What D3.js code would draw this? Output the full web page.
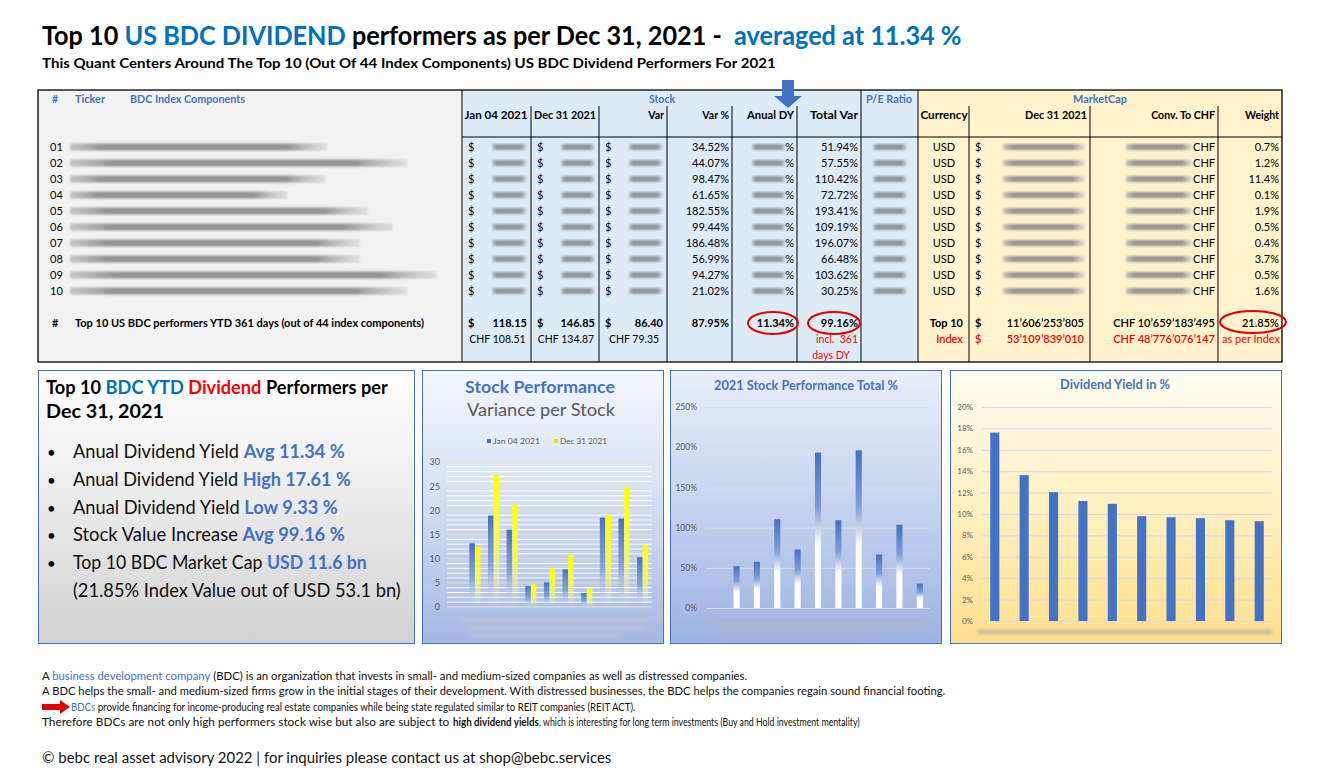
<!DOCTYPE html>
<html><head><meta charset="utf-8">
<script src="https://cdn.jsdelivr.net/npm/d3@7/dist/d3.min.js"></script>
<style>body{margin:0;background:#fff}svg{display:block}text{white-space:pre}</style>
</head><body>
<script>
// ---------------- DATA ----------------
const rowIds = ['01','02','03','04','05','06','07','08','09','10'];
const varPct = [34.52,44.07,98.47,61.65,182.55,99.44,186.48,56.99,94.27,21.02];
const totalVar = [51.94,57.55,110.42,72.72,193.41,109.19,196.07,66.48,103.62,30.25];
const weightPct = [0.7,1.2,11.4,0.1,1.9,0.5,0.4,3.7,0.5,1.6];
const currency = ['USD','USD','USD','USD','USD','USD','USD','USD','USD','USD'];
const priceJan = [13.2,18.9,16.0,4.3,5.1,7.8,2.9,18.5,18.3,10.3];
const priceDec = [12.5,27.3,21.2,4.7,8.0,10.8,3.9,19.0,24.8,12.8];
const divYield = [17.61,13.63,12.04,11.22,10.95,9.80,9.70,9.61,9.42,9.33];
const stockTicks = [0,5,10,15,20,25,30];
const totalTicks = [0,0.5,1,1.5,2,2.5];
const yieldTicks = [0,0.02,0.04,0.06,0.08,0.10,0.12,0.14,0.16,0.18,0.20];
const sumUSD = ['118.15','146.85','86.40'];
const sumCHF = ['CHF 108.51','CHF 134.87','CHF 79.35'];
const sumVarPct = '87.95%', sumDY = '11.34%', sumTotal = '99.16%';
const mcapTop10 = "11’606’253’805", chfTop10 = "CHF 10’659’183’495", weightTop10 = '21.85%';
const mcapIndex = "53’109’839’010", chfIndex = "CHF 48’776’076’147";
const legendNames = ['Jan 04 2021','Dec 31 2021'];
// hidden (blurred) name lengths, decorative
const nameMaskLen = [257,337,255,217,298,323,290,290,367,337];

// ---------------- SETUP ----------------
const W=1332,H=784;
const FONT='Lato, "Open Sans", sans-serif';
const BLUE='#4472C4', TBLUE='#0070C0', RED='#FF0000';
const svg=d3.select('body').append('svg').attr('width',W).attr('height',H).style('font-family',FONT);
svg.append('rect').attr('width',W).attr('height',H).attr('fill','#fff');
const defs=svg.append('defs');
defs.append('filter').attr('id','blur').attr('x','-20%').attr('y','-100%').attr('width','140%').attr('height','300%')
  .append('feGaussianBlur').attr('stdDeviation','1.3 0.9');
defs.append('filter').attr('id','blur2').attr('x','-20%').attr('y','-200%').attr('width','140%').attr('height','500%')
  .append('feGaussianBlur').attr('stdDeviation',2.2);
function lg(id,stops,horiz){
  const g=defs.append('linearGradient').attr('id',id).attr('x1',0).attr('y1',0).attr('x2',horiz?1:0).attr('y2',horiz?0:1);
  stops.forEach(s=>g.append('stop').attr('offset',s[0]).attr('stop-color',s[1]).attr('stop-opacity',s[2]==null?1:s[2]));
}
lg('gLeft',[[0,'#ffffff'],[0.35,'#f1f1f1'],[1,'#d2d2d2']]);
lg('gStock',[[0,'#f3f6fc'],[0.4,'#dbe4f5'],[1,'#a4b9e3']]);
lg('gTotal',[[0,'#e9eef9'],[0.45,'#c9d6f0'],[1,'#9cb3e1']]);
lg('gYield',[[0,'#fffdf3'],[0.5,'#fff0c0'],[1,'#ffe08c']]);
lg('gBarBlue',[[0,BLUE,1],[0.55,'#6f92d2',0.75],[1,'#dfe7f6',0]]);
lg('gBarYel',[[0,'#FFFF00',1],[0.55,'#ffff40',0.8],[1,'#ffffc0',0]]);
lg('gBarTot',[[0,BLUE,1],[0.35,'#7f9dd6',1],[0.6,'#ffffff',1],[1,'#ffffff',1]]);
lg('gMask',[[0,'#a8a8a8',0.6],[0.12,'#8c8c8c',0.9],[0.85,'#8c8c8c',0.9],[1,'#b0b0b0',0.3]],true);

function rich(x,y,parts,o){
  const g=svg.append('g');
  const t=g.append('text').attr('font-size',o.size).attr('font-weight',o.weight||400)
    .attr('fill',o.fill||'#000').attr('text-anchor',o.anchor||'start');
  if(o.dy) t.attr('dy',o.dy);
  (Array.isArray(parts)?parts:[parts]).forEach(p=>{
    if(typeof p==='string') t.append('tspan').text(p);
    else{const s=t.append('tspan').text(p[0]); if(p[1].fill)s.attr('fill',p[1].fill); if(p[1].weight)s.attr('font-weight',p[1].weight);}
  });
  let sx=1;
  if(o.width){const w=t.node().getComputedTextLength(); if(w>0) sx=o.width/w;}
  g.attr('transform',`translate(${x},${y}) scale(${sx},1)`);
  return t;
}
function mask(x,y,w,h){
  svg.append('rect').attr('x',x).attr('y',y-h/2).attr('width',w).attr('height',h)
    .attr('fill','url(#gMask)').attr('filter','url(#blur)');
}

// ---------------- TITLES ----------------
rich(42,45,['Top 10 ',['US BDC DIVIDEND',{fill:TBLUE}],' performers as per Dec 31, 2021 -  ',['averaged at 11.34 %',{fill:TBLUE}]],{size:26,weight:700,width:920});
rich(42,68,'This Quant Centers Around The Top 10 (Out Of 44 Index Components) US BDC Dividend Performers For 2021',{size:12.5,weight:700,width:734});

// ---------------- TABLE ----------------
const T={x0:38,x1:1282,y0:90,y1:362,hy:106,hb:137};
const col={jan:[462,531],dec:[531,599],vr:[599,667],vp:[667,732],dy:[732,797],tot:[797,861],pe:[861,918],cur:[918,969],mc:[969,1090],chf:[1090,1218],w:[1218,1282]};
svg.append('rect').attr('x',T.x0).attr('y',T.y0).attr('width',462-T.x0).attr('height',T.y1-T.y0).attr('fill','#f2f2f2');
svg.append('rect').attr('x',462).attr('y',T.y0).attr('width',918-462).attr('height',T.y1-T.y0).attr('fill','#ddebf7');
svg.append('rect').attr('x',918).attr('y',T.y0).attr('width',T.x1-918).attr('height',T.y1-T.y0).attr('fill','#fff2cc');
const lines=svg.append('g').attr('stroke','#000').attr('stroke-width',1);
[462,861,918].forEach(x=>lines.append('line').attr('x1',x).attr('x2',x).attr('y1',T.y0).attr('y2',T.y1));
[531,599,667,732,797,969,1090,1218].forEach(x=>lines.append('line').attr('x1',x).attr('x2',x).attr('y1',T.hy).attr('y2',T.y1));
lines.append('line').attr('x1',462).attr('x2',T.x1).attr('y1',T.hb).attr('y2',T.hb);
svg.append('rect').attr('x',T.x0).attr('y',T.y0).attr('width',T.x1-T.x0).attr('height',T.y1-T.y0)
  .attr('fill','none').attr('stroke','#000').attr('stroke-width',1.3);

// headers
const hs={size:10.5,weight:700,fill:BLUE,dy:'0.35em'};
rich(52,99,'#',hs); rich(75,99,'Ticker',Object.assign({},hs,{width:30})); rich(130,99,'BDC Index Components',Object.assign({},hs,{width:115}));
rich(662,99,'Stock',Object.assign({},hs,{anchor:'middle'}));
rich(889,99,'P/E Ratio',Object.assign({},hs,{anchor:'middle',width:46}));
rich(1100,99,'MarketCap',Object.assign({},hs,{anchor:'middle',width:54}));
const ch={size:10.5,weight:700,fill:'#000',dy:'0.35em'};
rich(496,115,'Jan 04 2021',Object.assign({},ch,{anchor:'middle',width:63}));
rich(565,115,'Dec 31 2021',Object.assign({},ch,{anchor:'middle',width:62}));
rich(664,115,'Var',Object.assign({},ch,{anchor:'end'}));
rich(729,115,'Var %',Object.assign({},ch,{anchor:'end'}));
rich(794,115,'Anual DY',Object.assign({},ch,{anchor:'end',width:47}));
rich(858,115,'Total Var',Object.assign({},ch,{anchor:'end',width:48}));
rich(944,115,'Currency',Object.assign({},ch,{anchor:'middle',width:47}));
rich(1087,115,'Dec 31 2021',Object.assign({},ch,{anchor:'end',width:62}));
rich(1215,115,'Conv. To CHF',Object.assign({},ch,{anchor:'end',width:64}));
rich(1279,115,'Weight',Object.assign({},ch,{anchor:'end'}));

// arrow above Anual DY
svg.append('path').attr('d','M782,80 L794,80 L794,96 L802,96 L788,108 L774,96 L782,96 Z').attr('fill',BLUE);

// rows
const rowY=i=>147+i*16;
const rs={size:11,fill:'#000',dy:'0.35em'};
rowIds.forEach((id,i)=>{
  const y=rowY(i);
  rich(50,y,id,rs);
  mask(70,y,nameMaskLen[i],7);
  ['jan','dec','vr'].forEach(k=>{
    rich(col[k][0]+6,y,'$',rs);
    mask(col[k][0]+30,y,col[k][1]-col[k][0]-34,6);
  });
  rich(729,y,varPct[i].toFixed(2)+'%',Object.assign({},rs,{anchor:'end'}));
  mask(752,y,34,6);
  rich(794,y,'%',Object.assign({},rs,{anchor:'end'}));
  rich(858,y,totalVar[i].toFixed(2)+'%',Object.assign({},rs,{anchor:'end'}));
  mask(873,y,34,6);
  rich(944,y,currency[i],Object.assign({},rs,{anchor:'middle'}));
  rich(975,y,'$',rs);
  mask(1003,y,82,6);
  mask(1126,y,66,6);
  rich(1215,y,'CHF',Object.assign({},rs,{anchor:'end'}));
  rich(1279,y,weightPct[i].toFixed(1)+'%',Object.assign({},rs,{anchor:'end'}));
});

// summary rows
const sb={size:11,weight:700,fill:'#000',dy:'0.35em'};
rich(52,323,'#',sb);
rich(75,323,'Top 10 US BDC performers YTD 361 days (out of 44 index components)',Object.assign({},sb,{size:10.5,width:349}));
['jan','dec','vr'].forEach((k,j)=>{
  rich(col[k][0]+6,323,'$',sb);
  rich(col[k][1]-4,323,sumUSD[j],Object.assign({},sb,{anchor:'end'}));
  rich((col[k][0]+col[k][1])/2+1,339,sumCHF[j],Object.assign({},rs,{anchor:'middle',size:10.5}));
});
rich(729,323,sumVarPct,Object.assign({},sb,{anchor:'end'}));
rich(794,323,sumDY,Object.assign({},sb,{anchor:'end'}));
rich(858,323,sumTotal,Object.assign({},sb,{anchor:'end'}));
rich(858,339,'incl.  361',Object.assign({},rs,{anchor:'end',fill:RED,size:10.5}));
rich(831,355,'days DY',Object.assign({},rs,{anchor:'middle',fill:RED,size:10.5}));
rich(963,323,'Top 10',Object.assign({},sb,{anchor:'end'}));
rich(975,323,'$',sb);
rich(1084,323,mcapTop10,Object.assign({},sb,{anchor:'end',weight:600}));
rich(1215,323,chfTop10,Object.assign({},sb,{anchor:'end',weight:600}));
rich(1279,323,weightTop10,Object.assign({},sb,{anchor:'end',weight:600}));
const sr=Object.assign({},sb,{fill:RED,weight:600});
rich(963,339,'Index',Object.assign({},sr,{anchor:'end'}));
rich(975,339,'$',sr);
rich(1084,339,mcapIndex,Object.assign({},sr,{anchor:'end'}));
rich(1215,339,chfIndex,Object.assign({},sr,{anchor:'end'}));
rich(1280,339,'as per Index',Object.assign({},rs,{anchor:'end',fill:RED,size:10.5,width:58}));
[[773,323,25,11],[834,323,26,11],[1253,322,33,11]].forEach(e=>
  svg.append('ellipse').attr('cx',e[0]).attr('cy',e[1]).attr('rx',e[2]).attr('ry',e[3])
    .attr('fill','none').attr('stroke','#e00000').attr('stroke-width',2));

// ---------------- LEFT TEXT BOX ----------------
svg.append('rect').attr('x',38.5).attr('y',370.5).attr('width',376).attr('height',273).attr('fill','url(#gLeft)').attr('stroke',BLUE);
rich(46,394,['Top 10 ',['BDC YTD ',{fill:TBLUE}],['Dividend',{fill:RED}],' Performers per'],{size:18.5,weight:700,width:342});
rich(46,418,'Dec 31, 2021',{size:18.5,weight:700,width:118});
const bullets=[
  ['Anual Dividend Yield ','Avg 11.34 %',272],
  ['Anual Dividend Yield ','High 17.61 %',278],
  ['Anual Dividend Yield ','Low 9.33 %',265],
  ['Stock Value Increase ','Avg 99.16 %',272],
  ['Top 10 BDC Market Cap ','USD 11.6 bn',294]];
bullets.forEach((b,i)=>{
  const y=458+i*27.8;
  rich(47,y,'•',{size:15});
  rich(73,y,[b[0],[b[1],{fill:BLUE,weight:700}]],{size:18.5,fill:'#111',width:b[2]});
});
rich(73,458+5*27.8,'(21.85% Index Value out of USD 53.1 bn)',{size:18.5,fill:'#111',width:328});

// ---------------- CHART 1: Stock Performance ----------------
svg.append('rect').attr('x',422.5).attr('y',370.5).attr('width',241).attr('height',273).attr('fill','url(#gStock)').attr('stroke',BLUE);
rich(540,393,'Stock Performance',{size:17.5,weight:700,fill:BLUE,anchor:'middle',width:150});
rich(541,416,'Variance per Stock',{size:17,fill:'#595959',anchor:'middle',width:148});
const y1=d3.scaleLinear().domain([0,30]).range([607,462]);
const x1=d3.scaleBand().domain(['',...rowIds]).range([447,652]).paddingInner(0.4).paddingOuter(0.2);
const xs1=d3.scaleBand().domain(legendNames).range([0,x1.bandwidth()]);
const g1=svg.append('g');
g1.append('g').selectAll('line').data(d3.range(0,31,1)).join('line')
  .attr('x1',447).attr('x2',652).attr('y1',d=>y1(d)).attr('y2',d=>y1(d))
  .attr('stroke',d=>d%5===0?'#eadfc8':'#ffffff').attr('stroke-width',1).attr('opacity',0.95);
const ax1=g1.append('g').attr('transform','translate(447,0)').call(d3.axisLeft(y1).tickValues(stockTicks).tickSize(0).tickPadding(7));
ax1.select('.domain').remove();
ax1.selectAll('text').attr('font-family',FONT).attr('font-size',9).attr('fill','#595959');
const series1=[priceJan,priceDec];
series1.forEach((arr,si)=>{
  g1.append('g').selectAll('rect').data(arr).join('rect')
    .attr('x',(d,i)=>x1(rowIds[i])+xs1(legendNames[si]))
    .attr('width',xs1.bandwidth())
    .attr('y',d=>y1(d)).attr('height',d=>y1(0)-y1(d))
    .attr('fill',si===0?'url(#gBarBlue)':'url(#gBarYel)');
});
// legend
[[legendNames[0],BLUE,487],[legendNames[1],'#e6e600',554]].forEach(l=>{
  svg.append('rect').attr('x',l[2]).attr('y',439).attr('width',4).attr('height',4).attr('fill',l[1]);
  rich(l[2]+6,441,l[0],{size:7.5,fill:'#595959',dy:'0.35em',width:47});
});
[[460,620,190],[466,628,180],[470,635,150]].forEach(m=>
  svg.append('rect').attr('x',m[0]).attr('y',m[1]-2).attr('width',m[2]).attr('height',4).attr('fill','#b8c3d8').attr('filter','url(#blur2)'));

// ---------------- CHART 2: Total % ----------------
svg.append('rect').attr('x',670.5).attr('y',370.5).attr('width',271).attr('height',273).attr('fill','url(#gTotal)').attr('stroke',BLUE);
rich(806,386,'2021 Stock Performance Total %',{size:12.5,weight:700,fill:BLUE,anchor:'middle',dy:'0.35em',width:184});
const y2=d3.scaleLinear().domain([0,2.5]).range([608,407]);
const x2=d3.scaleBand().domain(['',...rowIds]).range([706,930]).paddingInner(0.7).paddingOuter(0.35);
const g2=svg.append('g');
const ax2=g2.append('g').attr('transform','translate(706,0)')
  .call(d3.axisLeft(y2).tickValues(totalTicks).tickFormat(d3.format('.0%')).tickSize(-224).tickPadding(9));
ax2.select('.domain').remove();
ax2.selectAll('line').attr('stroke','#d8dde8');
ax2.selectAll('text').attr('font-family',FONT).attr('font-size',8.5).attr('fill','#595959');
g2.append('g').selectAll('rect').data(totalVar).join('rect')
  .attr('x',(d,i)=>x2(rowIds[i])).attr('width',x2.bandwidth())
  .attr('y',d=>y2(d/100)).attr('height',d=>y2(0)-y2(d/100)).attr('fill','url(#gBarTot)');
[[712,620,216],[718,628,205],[722,635,150]].forEach(m=>
  svg.append('rect').attr('x',m[0]).attr('y',m[1]-2).attr('width',m[2]).attr('height',4).attr('fill','#a9b4ca').attr('filter','url(#blur2)'));

// ---------------- CHART 3: Dividend Yield ----------------
svg.append('rect').attr('x',950.5).attr('y',370.5).attr('width',331).attr('height',273).attr('fill','url(#gYield)').attr('stroke',BLUE);
rich(1115,385,'Dividend Yield in %',{size:12.5,weight:700,fill:BLUE,anchor:'middle',dy:'0.35em',width:110});
const y3=d3.scaleLinear().domain([0,0.2]).range([621,407]);
const x3=d3.scaleBand().domain(rowIds).range([982,1272]).paddingInner(0.69).paddingOuter(0.28);
const g3=svg.append('g');
const ax3=g3.append('g').attr('transform','translate(982,0)')
  .call(d3.axisLeft(y3).tickValues(yieldTicks).tickFormat(d3.format('.0%')).tickSize(-290).tickPadding(9));
ax3.select('.domain').remove();
ax3.selectAll('line').attr('stroke','#d6d6e4');
ax3.selectAll('text').attr('font-family',FONT).attr('font-size',8).attr('fill','#595959');
g3.append('g').selectAll('rect').data(divYield).join('rect')
  .attr('x',(d,i)=>x3(rowIds[i])).attr('width',x3.bandwidth())
  .attr('y',d=>y3(d/100)).attr('height',d=>y3(0)-y3(d/100)).attr('fill',BLUE);
svg.append('rect').attr('x',978).attr('y',630).attr('width',294).attr('height',4).attr('fill','#b7ad95').attr('filter','url(#blur2)');

// ---------------- FOOTER ----------------
const fs={size:11,fill:'#111'};
rich(42,680,['A ',['business development company',{fill:BLUE}],' (BDC) is an organization that invests in small- and medium-sized companies as well as distressed companies.'],Object.assign({},fs,{width:706}));
rich(42,695,'A BDC helps the small- and medium-sized firms grow in the initial stages of their development. With distressed businesses, the BDC helps the companies regain sound financial footing.',Object.assign({},fs,{width:904}));
svg.append('path').attr('d','M42,704 L60,704 L60,700 L70,707 L60,714 L60,710 L42,710 Z').attr('fill','#e00000');
rich(71,711,[['BDCs',{fill:BLUE}],' provide financing for income-producing real estate companies while being state regulated similar to REIT companies (REIT ACT).'],Object.assign({},fs,{size:10.5,width:565}));
rich(42,726,'Therefore BDCs are not only high performers stock wise but also are subject to ',Object.assign({},fs,{size:10.5,width:411}));
rich(453,726,'high dividend yields',Object.assign({},fs,{size:10.5,weight:700,width:86}));
rich(539,726,', which is interesting for long term investments (Buy and Hold investment mentality)',Object.assign({},fs,{size:10.5,width:321}));
rich(42,763,'© bebc real asset advisory 2022 | for inquiries please contact us at shop@bebc.services',{size:15,fill:'#111',width:570});
</script>
</body></html>
